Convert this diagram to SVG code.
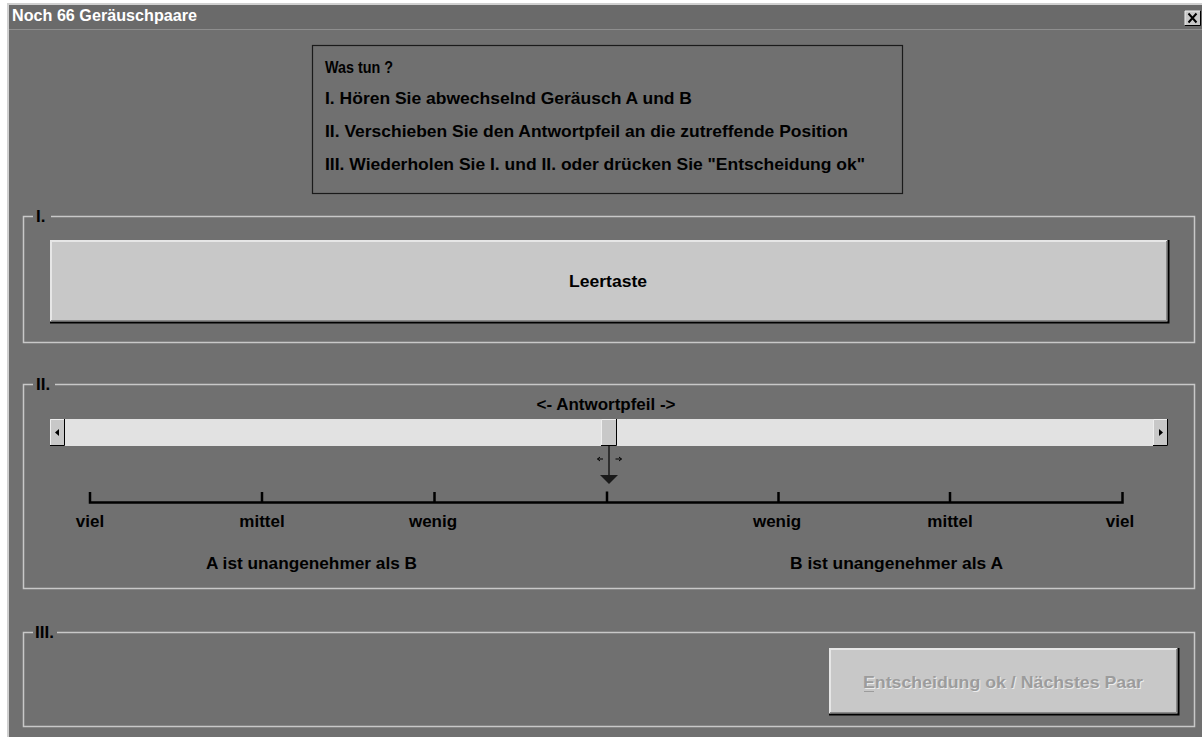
<svg xmlns="http://www.w3.org/2000/svg" width="1202" height="737" viewBox="0 0 1202 737">
<style>
.t{font-family:"Liberation Sans",Arial,sans-serif;font-weight:bold;font-size:17px;fill:#000}
.c{text-anchor:middle}
.frame{fill:none;stroke:#c8c8c8;stroke-width:1.5}
.btn{fill:#c8c8c8}
.hi{stroke:#e6e6e6;stroke-width:2;fill:none}
.sh{stroke:#000;stroke-width:2;fill:none}
.sh2{stroke:#8a8a8a;stroke-width:1;fill:none}
</style>
<rect x="0" y="0" width="1202" height="737" fill="#ffffff"/>
<g id="window">
<rect x="7" y="3" width="1195" height="734" fill="#707070"/>
<line x1="7" y1="4" x2="1202" y2="4" stroke="#d0d0d0" stroke-width="2"/>
<line x1="8" y1="3" x2="8" y2="737" stroke="#d0d0d0" stroke-width="2"/>
<rect x="9" y="5" width="1193" height="24" fill="#6a6a6a"/>
<line x1="9" y1="29.5" x2="1202" y2="29.5" stroke="#8e8e8e" stroke-width="1"/>
<text class="t" x="12" y="21" style="fill:#ffffff" textLength="185" lengthAdjust="spacingAndGlyphs">Noch 66 Geräuschpaare</text>
</g>
<g id="close-button">
<rect x="1185" y="11" width="15" height="14" fill="#c8c8c8"/>
<path d="M1185 25 V11 H1200" stroke="#eeeeee" stroke-width="1" fill="none"/>
<path d="M1185 25.5 H1200.5 V11" stroke="#000" stroke-width="1" fill="none"/>
<path d="M1188.5 13.5 L1196.5 22.5 M1196.5 13.5 L1188.5 22.5" stroke="#000" stroke-width="2"/>
</g>
<g id="instructions">
<rect x="312.5" y="45.5" width="590" height="148" fill="none" stroke="#1a1a1a" stroke-width="1.2"/>
<text class="t" x="325" y="73" textLength="68" lengthAdjust="spacingAndGlyphs">Was tun ?</text>
<text class="t" x="325" y="104" textLength="367" lengthAdjust="spacingAndGlyphs">I. Hören Sie abwechselnd Geräusch A und B</text>
<text class="t" x="325" y="137" textLength="523" lengthAdjust="spacingAndGlyphs">II. Verschieben Sie den Antwortpfeil an die zutreffende Position</text>
<text class="t" x="325" y="170" textLength="540" lengthAdjust="spacingAndGlyphs">III. Wiederholen Sie I. und II. oder drücken Sie "Entscheidung ok"</text>
</g>
<g id="group-I">
<path class="frame" d="M33 216.5 H23.5 V342.5 H1194.5 V216.5 H51"/>
<text class="t" x="36" y="222">I.</text>
</g>
<g id="leertaste-button">
<rect class="btn" x="50" y="240" width="1118" height="82"/>
<path class="hi" d="M51 322 V241 H1167"/>
<path class="sh2" d="M51 320.5 H1166.5 V241"/>
<path class="sh" d="M50 322.5 H1168.5 V240"/>
<text class="t c" x="608" y="287" textLength="78" lengthAdjust="spacingAndGlyphs">Leertaste</text>
</g>
<g id="group-II">
<path class="frame" d="M33 384.5 H23.5 V588.5 H1194.5 V384.5 H55"/>
<text class="t" x="36" y="390">II.</text>
<text class="t c" x="606" y="410" textLength="139" lengthAdjust="spacingAndGlyphs">&lt;- Antwortpfeil -&gt;</text>
</g>
<g id="scrollbar">
<rect x="50" y="419" width="1118" height="27" fill="#e2e2e2"/>
<rect class="btn" x="50" y="419" width="15" height="27"/>
<path d="M50.5 446 V419.5 H64" stroke="#eeeeee" stroke-width="1" fill="none"/>
<path d="M50 445.5 H64.5 V419" stroke="#000" stroke-width="1" fill="none"/>
<path d="M55 432.5 L59 429 V436 Z" fill="#000"/>
<rect class="btn" x="1153" y="419" width="15" height="27"/>
<path d="M1153.5 446 V419.5 H1167" stroke="#eeeeee" stroke-width="1" fill="none"/>
<path d="M1153 445.5 H1167.5 V419" stroke="#000" stroke-width="1" fill="none"/>
<path d="M1163 432.5 L1159 429 V436 Z" fill="#000"/>
</g>
<g id="thumb">
<rect class="btn" x="601" y="419" width="16" height="26"/>
<path d="M601.5 445 V419.5 H616" stroke="#eeeeee" stroke-width="1" fill="none"/>
<path d="M601 445.5 H616.5 V419" stroke="#000" stroke-width="1" fill="none"/>
</g>
<g id="connectors">
<line x1="609" y1="446" x2="609" y2="477" stroke="#1a1a1a" stroke-width="1.5"/>
<path d="M600 475 H618 L609 484 Z" fill="#1a1a1a"/>
<path d="M597.5 459 H603 M597.5 459 L600 457 M597.5 459 L600 461" stroke="#000" stroke-width="1" fill="none"/>
<path d="M615.5 459 H621.5 M621.5 459 L619 457 M621.5 459 L619 461" stroke="#000" stroke-width="1" fill="none"/>
<path d="M90 492 V502.5 H1122.5 V492 M262 492 V502 M434.5 492 V502 M607 491.5 V502 M778.5 492 V502 M950 492 V502" stroke="#000" stroke-width="2.5" fill="none"/>
</g>
<g id="scale-labels">
<text class="t c" x="90" y="527">viel</text>
<text class="t c" x="262" y="527">mittel</text>
<text class="t c" x="433" y="527">wenig</text>
<text class="t c" x="777" y="527">wenig</text>
<text class="t c" x="950" y="527">mittel</text>
<text class="t c" x="1120" y="527">viel</text>
<text class="t" x="206" y="569" textLength="211" lengthAdjust="spacingAndGlyphs">A ist unangenehmer als B</text>
<text class="t" x="790" y="569" textLength="213" lengthAdjust="spacingAndGlyphs">B ist unangenehmer als A</text>
</g>
<g id="group-III">
<path class="frame" d="M33 632.5 H23.5 V726.5 H1194.5 V632.5 H57"/>
<text class="t" x="35" y="638">III.</text>
</g>
<g id="ok-button">
<rect class="btn" x="829" y="648" width="349" height="66"/>
<path class="hi" d="M830 714 V649 H1177"/>
<path class="sh2" d="M830 712.5 H1176.5 V649"/>
<path class="sh" d="M829 714.5 H1178.5 V648"/>
<text class="t" x="864" y="689" style="fill:#ececec" textLength="280" lengthAdjust="spacingAndGlyphs">Entscheidung ok / Nächstes Paar</text>
<text class="t" x="863" y="688" style="fill:#9c9c9c" textLength="280" lengthAdjust="spacingAndGlyphs">Entscheidung ok / Nächstes Paar</text>
<line x1="864" y1="691.5" x2="874" y2="691.5" stroke="#9c9c9c" stroke-width="1"/>
</g>
</svg>
